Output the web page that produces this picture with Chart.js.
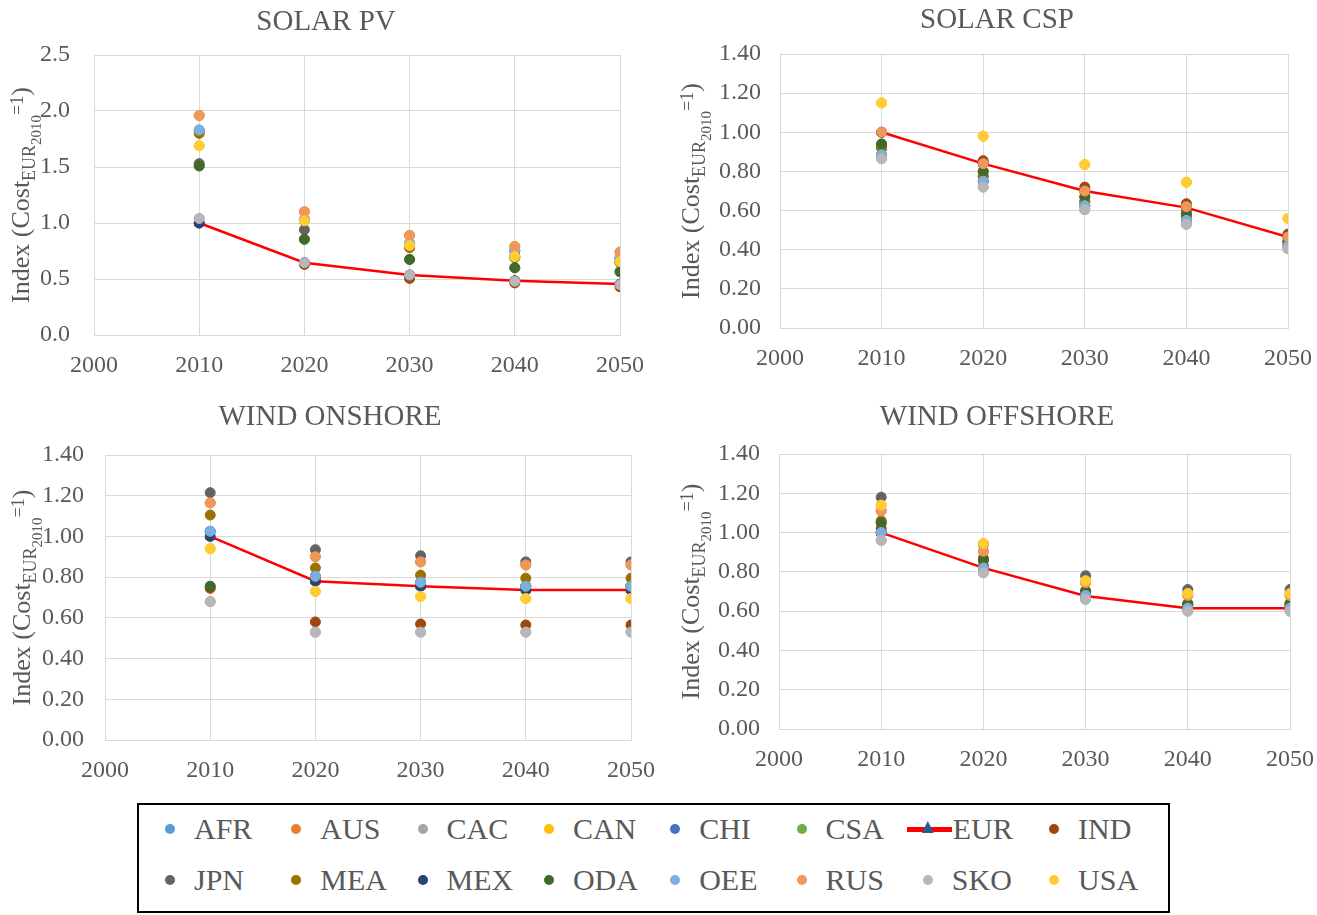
<!DOCTYPE html>
<html>
<head>
<meta charset="utf-8">
<script src="https://cdn.jsdelivr.net/npm/chart.js@4"></script>
<style>
  body { margin: 0; background: #fff; width: 1317px; height: 915px; position: relative; overflow: hidden; }
  canvas { position: absolute; }
  #legend { position: absolute; left: 137px; top: 803px; width: 1033px; height: 110px; box-sizing: border-box; border: 2px solid #000; }
  .item { position: absolute; font: 30px "Liberation Serif", "Times New Roman", serif; color: #595959; line-height: 30px; white-space: nowrap; }
  .dot { position: absolute; width: 10px; height: 10px; border-radius: 50%; }
</style>
</head>
<body>
<canvas id="pv" width="652" height="390" style="left:0;top:0"></canvas>
<canvas id="csp" width="638" height="384" style="left:678px;top:0"></canvas>
<canvas id="onshore" width="660" height="400" style="left:0;top:395px"></canvas>
<canvas id="offshore" width="638" height="390" style="left:678px;top:395px"></canvas>
<div id="legend"></div>
<script>
"use strict";

var years = [2010, 2020, 2030, 2040, 2050];
var regions = ["AFR", "AUS", "CAC", "CAN", "CHI", "CSA", "EUR", "IND",
               "JPN", "MEA", "MEX", "ODA", "OEE", "RUS", "SKO", "USA"];
var colors = ["#5B9BD5", "#ED7D31", "#A5A5A5", "#FFC000", "#4472C4", "#70AD47", "#255E91", "#9E480E",
              "#636363", "#997300", "#264478", "#43682B", "#7CAFDD", "#F1975A", "#B7B7B7", "#FFCD33"];

// one row per region, same order as regions[]
var solarPV = [
    [1.83, 1.03, 0.82, 0.75, 0.68],   // AFR
    [1.96, 1.10, 0.89, 0.79, 0.74],   // AUS
    [1.04, 0.645, 0.535, 0.48, 0.45], // CAC
    [1.69, 1.02, 0.80, 0.70, 0.655],  // CAN
    [1.82, 1.03, 0.81, 0.75, 0.68],   // CHI
    [1.51, 0.855, 0.675, 0.60, 0.565],// CSA
    [1.00, 0.645, 0.535, 0.485, 0.455],// EUR
    [1.00, 0.63, 0.505, 0.465, 0.43], // IND
    [1.53, 0.94, 0.785, 0.70, 0.65],  // JPN
    [1.80, 1.02, 0.78, 0.69, 0.645],  // MEA
    [1.00, 0.645, 0.535, 0.485, 0.455],// MEX
    [1.51, 0.855, 0.675, 0.60, 0.565],// ODA
    [1.83, 1.03, 0.815, 0.76, 0.69],  // OEE
    [1.96, 1.10, 0.89, 0.79, 0.74],   // RUS
    [1.04, 0.645, 0.535, 0.48, 0.45], // SKO
    [1.69, 1.02, 0.80, 0.70, 0.655]   // USA
];

var solarCSP = [
    [0.885, 0.75, 0.625, 0.55, 0.42], // AFR
    [1.00, 0.84, 0.70, 0.62, 0.465],  // AUS
    [0.865, 0.72, 0.605, 0.53, 0.405],// CAC
    [1.15, 0.98, 0.835, 0.745, 0.56], // CAN
    [0.885, 0.75, 0.625, 0.55, 0.42], // CHI
    [0.94, 0.80, 0.67, 0.585, 0.445], // CSA
    [1.00, 0.84, 0.70, 0.615, 0.465], // EUR
    [1.00, 0.855, 0.72, 0.635, 0.48], // IND
    [0.92, 0.775, 0.645, 0.57, 0.435],// JPN
    [0.92, 0.775, 0.645, 0.57, 0.435],// MEA
    [1.00, 0.84, 0.70, 0.615, 0.465], // MEX
    [0.94, 0.80, 0.67, 0.585, 0.445], // ODA
    [0.885, 0.75, 0.625, 0.55, 0.42], // OEE
    [1.00, 0.84, 0.70, 0.62, 0.465],  // RUS
    [0.865, 0.72, 0.605, 0.53, 0.405],// SKO
    [1.15, 0.98, 0.835, 0.745, 0.56]  // USA
];

var windOnshore = [
    [1.025, 0.805, 0.775, 0.755, 0.755], // AFR
    [1.165, 0.90, 0.875, 0.86, 0.86],    // AUS
    [0.68, 0.53, 0.53, 0.53, 0.53],      // CAC
    [0.94, 0.73, 0.705, 0.695, 0.695],   // CAN
    [1.025, 0.805, 0.775, 0.755, 0.755], // CHI
    [0.755, 0.80, 0.775, 0.755, 0.755],  // CSA
    [1.00, 0.78, 0.755, 0.737, 0.737],   // EUR
    [0.745, 0.58, 0.57, 0.565, 0.565],   // IND
    [1.215, 0.935, 0.905, 0.875, 0.875], // JPN
    [1.105, 0.845, 0.81, 0.795, 0.795],  // MEA
    [1.00, 0.78, 0.755, 0.737, 0.737],   // MEX
    [0.755, 0.80, 0.775, 0.755, 0.755],  // ODA
    [1.025, 0.805, 0.775, 0.755, 0.755], // OEE
    [1.165, 0.90, 0.875, 0.86, 0.86],    // RUS
    [0.68, 0.53, 0.53, 0.53, 0.53],      // SKO
    [0.94, 0.73, 0.705, 0.695, 0.695]    // USA
];

var windOffshore = [
    [1.00, 0.82, 0.68, 0.615, 0.615],   // AFR
    [1.11, 0.905, 0.745, 0.68, 0.68],   // AUS
    [0.96, 0.795, 0.66, 0.60, 0.60],    // CAC
    [1.14, 0.945, 0.755, 0.69, 0.69],   // CAN
    [1.00, 0.82, 0.68, 0.615, 0.615],   // CHI
    [1.05, 0.86, 0.70, 0.635, 0.635],   // CSA
    [1.00, 0.82, 0.677, 0.615, 0.615],  // EUR
    [1.02, 0.83, 0.69, 0.625, 0.625],   // IND
    [1.18, 0.94, 0.78, 0.71, 0.71],     // JPN
    [1.06, 0.87, 0.705, 0.64, 0.64],    // MEA
    [1.00, 0.82, 0.677, 0.615, 0.615],  // MEX
    [1.05, 0.86, 0.70, 0.635, 0.635],   // ODA
    [1.00, 0.82, 0.68, 0.615, 0.615],   // OEE
    [1.11, 0.905, 0.745, 0.68, 0.68],   // RUS
    [0.96, 0.795, 0.66, 0.60, 0.60],    // SKO
    [1.14, 0.945, 0.755, 0.69, 0.69]    // USA
];

var pvTicks = [0, 0.5, 1.0, 1.5, 2.0, 2.5];
var windTicks = [0, 0.2, 0.4, 0.6, 0.8, 1.0, 1.2, 1.4];
var yearTicks = [2000, 2010, 2020, 2030, 2040, 2050];

var serif = '"Liberation Serif", "Times New Roman", serif';
var textColor = "#595959";
var gridColor = "#D9D9D9";
Chart.defaults.font.family = serif;
Chart.defaults.color = textColor;

/* draws the rotated y title with its sub/superscripts */
var yTitlePlugin = {
    id: "yTitle",
    afterDraw: function(chart, args, opts) {
        var ctx = chart.ctx;
        var parts = [
            { t: "Index (Cost", size: 26, dy: 0 },
            { t: "EUR", size: 18, dy: 6 },
            { t: "2010", size: 15, dy: 12 },
            { t: "=1", size: 18, dy: -6 },
            { t: ")", size: 26, dy: 0 }
        ];
        ctx.save();
        var total = 0;
        parts.forEach(function(p) {
            ctx.font = p.size + "px " + serif;
            p.w = ctx.measureText(p.t).width;
            total += p.w;
        });
        var area = chart.chartArea;
        ctx.translate(opts.x, (area.top + area.bottom) / 2);
        ctx.rotate(-Math.PI / 2);
        ctx.fillStyle = textColor;
        ctx.textBaseline = "alphabetic";
        var x = -total / 2;
        parts.forEach(function(p) {
            ctx.font = p.size + "px " + serif;
            ctx.fillText(p.t, x, p.dy);
            x += p.w;
        });
        ctx.restore();
    }
};

function makeDatasets(values) {
    return regions.map(function(name, i) {
        var pts = years.map(function(y, j) { return { x: y, y: values[i][j] }; });
        var ds = {
            label: name,
            data: pts,
            backgroundColor: colors[i],
            borderColor: colors[i],
            pointRadius: 5,
            pointHoverRadius: 5,
            order: regions.length - i
        };
        if (name === "EUR") {
            ds.showLine = true;
            ds.borderColor = "#FF0000";
            ds.borderWidth = 2.5;
            ds.pointStyle = "triangle";
            ds.pointRadius = 5.5;
            ds.pointBorderColor = "#FF0000";
            ds.pointBorderWidth = 1;
            ds.pointBackgroundColor = colors[i];
        }
        return ds;
    });
}

function makeChart(id, title, values, yTicks, cfg) {
    var decimals = yTicks === pvTicks ? 1 : 2;
    return new Chart(document.getElementById(id), {
        type: "scatter",
        data: { datasets: makeDatasets(values) },
        options: {
            responsive: false,
            animation: false,
            layout: { padding: 0 },
            scales: {
                x: {
                    type: "linear",
                    min: yearTicks[0],
                    max: yearTicks[yearTicks.length - 1],
                    afterBuildTicks: function(s) { s.ticks = yearTicks.map(function(v) { return { value: v }; }); },
                    afterFit: function(s) {
                        s.height = cfg.bottom;
                        s.paddingLeft = 0;
                        s.paddingRight = cfg.right;
                    },
                    grid: { color: gridColor, drawTicks: false },
                    border: { color: gridColor },
                    ticks: { padding: 16, font: { size: 24 }, color: textColor,
                              callback: function(v) { return String(v); } }
                },
                y: {
                    type: "linear",
                    min: yTicks[0],
                    max: yTicks[yTicks.length - 1],
                    afterBuildTicks: function(s) { s.ticks = yTicks.map(function(v) { return { value: v }; }); },
                    afterFit: function(s) { s.width = cfg.left; },
                    grid: { color: gridColor, drawTicks: false },
                    border: { color: gridColor },
                    ticks: { padding: cfg.tickPad, font: { size: 24 }, color: textColor,
                              callback: function(v) { return Number(v).toFixed(decimals); } }
                }
            },
            plugins: {
                legend: { display: false },
                tooltip: { enabled: false },
                title: {
                    display: true,
                    text: title,
                    color: textColor,
                    font: { size: 29, weight: "normal", lineHeight: 1.2 },
                    padding: { top: cfg.tTop, bottom: cfg.tBottom }
                },
                yTitle: { x: cfg.titleX }
            }
        },
        plugins: [yTitlePlugin]
    });
}

makeChart("pv", "SOLAR PV", solarPV, pvTicks,
    { left: 94, right: 32, bottom: 55, tTop: 4.6, tBottom: 15.6, tickPad: 24, titleX: 29 });
makeChart("csp", "SOLAR CSP", solarCSP, windTicks,
    { left: 102, right: 28, bottom: 56, tTop: 2.6, tBottom: 16.6, tickPad: 19, titleX: 21 });
makeChart("onshore", "WIND ONSHORE", windOnshore, windTicks,
    { left: 105, right: 29, bottom: 55, tTop: 4.6, tBottom: 20.6, tickPad: 21, titleX: 30 });
makeChart("offshore", "WIND OFFSHORE", windOffshore, windTicks,
    { left: 101, right: 26, bottom: 56, tTop: 4.6, tBottom: 19.6, tickPad: 19, titleX: 21 });

// shared legend, two rows of eight
var legend = document.getElementById("legend");
regions.forEach(function(name, i) {
    var col = i % 8, row = Math.floor(i / 8);
    var cx = 170 + 126.3 * col - 139;   // relative to legend box inner edge
    var cy = 829 + 51 * row - 805;
    if (name === "EUR") {
        var line = document.createElement("div");
        line.style.cssText = "position:absolute;left:" + (cx - 21) + "px;top:" + (cy - 2.5) + "px;width:45px;height:5px;background:#FF0000;";
        legend.appendChild(line);
        var tri = document.createElement("div");
        tri.style.cssText = "position:absolute;left:" + (cx - 6) + "px;top:" + (cy - 8) + "px;width:12px;height:12px;background:" + colors[i] + ";clip-path:polygon(50% 0,100% 100%,0 100%);";
        legend.appendChild(tri);
    } else {
        var dot = document.createElement("div");
        dot.className = "dot";
        dot.style.left = (cx - 5) + "px";
        dot.style.top = (cy - 5) + "px";
        dot.style.background = colors[i];
        legend.appendChild(dot);
    }
    var label = document.createElement("div");
    label.className = "item";
    label.textContent = name;
    label.style.left = (name === "EUR" ? cx + 25 : cx + 24) + "px";
    label.style.top = (cy - 15) + "px";
    legend.appendChild(label);
});
</script>
</body>
</html>
